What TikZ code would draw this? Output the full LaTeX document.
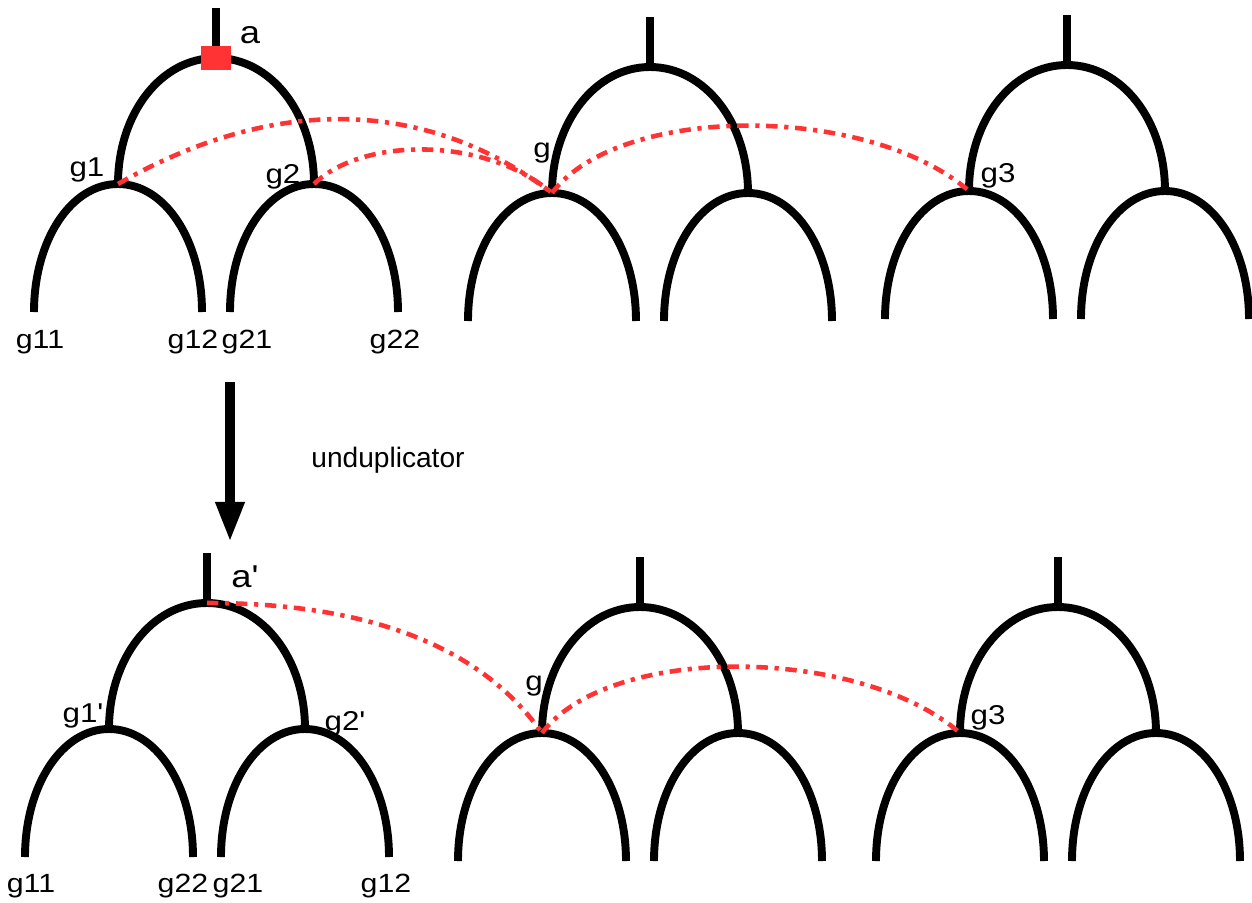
\documentclass[tikz,border=0pt]{standalone}
\usepackage{fontspec}
\setmainfont{Liberation Sans}
\newfontfamily\pointfont{Liberation Sans}[FakeStretch=1.15]
\usepackage{tikz}
\usetikzlibrary{arrows.meta}
\usetikzlibrary{positioning}
\definecolor{linkred}{RGB}{255,51,51}
\tikzset{
  >=latex, % for default LaTeX arrow head
  branch/.style={line width=4.5pt,black},
  link/.style={line width=2.6pt,linkred,dash pattern=on 6.5pt off 3.8pt on 2.4pt off 3.8pt},
  leaf/.style={inner sep=0,anchor=base,font=\pointfont\fontsize{15pt}{18pt}\selectfont},
  point/.style={inner sep=0,anchor=base,font=\pointfont\fontsize{15.5pt}{18pt}\selectfont},
  root/.style={inner sep=0,anchor=base,font=\pointfont\fontsize{18pt}{21pt}\selectfont},
  redsq/.style={fill=linkred,minimum width=0.6cm,minimum height=0.5cm,inner sep=0},
  rule arrow/.style={line width=5.4pt,-{Triangle[length=22.8pt,width=15.4pt]}}
}
% one arch: top coordinate #1 at (#2,#3), half width #4, height #5
\newcommand{\arch}[5]{%
  \coordinate (#1) at (#2,#3);
  \draw[branch] (#2-#4,#3+#5) .. controls +(0,-0.56*#5) and +(-0.56*#4,0) .. (#1)
    .. controls +(0.56*#4,0) and +(0,-0.56*#5) .. (#2+#4,#3+#5);
}
% a stem, one big arch and two small ones; stem top at (#2,#3)
\newcommand{\gtree}[3]{%
  \draw[branch] (#2,#3) coordinate (#1-s) -- (#2,#3+50);
  \arch{#1}{#2}{#3+50}{98}{126}
  \arch{#1-l}{#2-98}{#3+176}{84}{128}
  \arch{#1-r}{#2+98}{#3+176}{84}{128}
}

\begin{document}
\begin{tikzpicture}[x=0.02cm,y=-0.02cm]
  \useasboundingbox (0,0) rectangle (1252,903);
  % before
  \gtree{t1}{216}{8}
  \gtree{t2}{650}{17}
  \gtree{t3}{1067}{15}
  \node[redsq] (sq) at (t1) {};
  \node[root]  (la)  at (250,43)  {a};
  \node[point] (lg1) at (87,176)  {g1};
  \node[point] (lg2) at (283,183) {g2};
  \node[point] (lg)  at (542,157) {g};
  \node[point] (lg3) at (998,182) {g3};
  \node[leaf]  (l11) at (40,348)  {g11};
  \node[leaf]  (l12) at (193,348) {g12};
  \node[leaf]  (l21) at (247,348) {g21};
  \node[leaf]  (l22) at (395,348) {g22};
  \draw[link] (t1-l) .. controls +(148,-85) and +(-132,-100) .. (t2-l);
  \draw[link] (t1-r) .. controls +(48,-47) and +(-67,-57) .. (t2-l);
  \draw[link] (t2-l) .. controls +(68,-90) and +(-100,-87) .. (t3-l);

  % rule
  \coordinate (rule-top) at (230,382);
  \coordinate (rule-tip) at (230,542);
  \draw[rule arrow] (rule-top) -- (rule-tip);
  \node[inner sep=0,anchor=base,font=\fontsize{16pt}{19pt}\selectfont] (rule) at (388,467) {unduplicator};

  % after
  \gtree{b1}{207}{553}
  \gtree{b2}{640}{557}
  \gtree{b3}{1058}{557}
  \node[root]  (lb)   at (245,587) {a'};
  \node[point] (lb1)  at (83,722)  {g1'};
  \node[point] (lb2)  at (345,730) {g2'};
  \node[point] (lbg)  at (534,690) {g};
  \node[point] (lbg3) at (988,724) {g3};
  \node[leaf]  (m11)  at (31,892)  {g11};
  \node[leaf]  (m22)  at (183,892) {g22};
  \node[leaf]  (m21)  at (238,892) {g21};
  \node[leaf]  (m12)  at (386,892) {g12};
  \draw[link] (b1) .. controls +(123,0) and +(-74,-105) .. (b2-l);
  \draw[link] (b2-l) .. controls +(68,-90) and +(-100,-87) .. (b3-l);
\end{tikzpicture}
\end{document}
